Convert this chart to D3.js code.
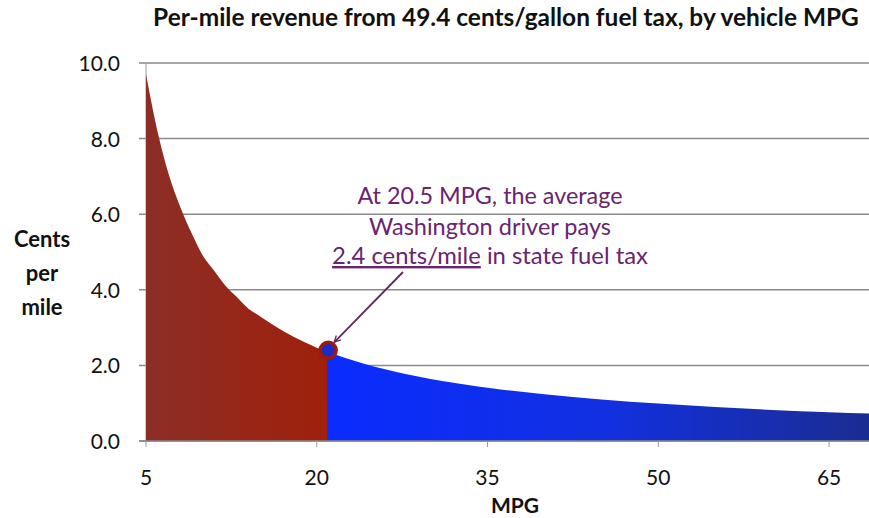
<!DOCTYPE html>
<html><head><meta charset="utf-8">
<script src="https://cdn.jsdelivr.net/npm/d3@7"></script>
<style>
html,body{margin:0;padding:0;background:#fff;}
svg{display:block;font-family:Lato,"Open Sans",sans-serif;}
</style></head>
<body>
<svg id="chart" width="869" height="518"></svg>
<script>
// ---- data ----
const mpg      = [5, 6, 7, 8, 9, 10, 11, 12, 13, 14, 15, 16, 18, 20, 20.9, 24, 28, 32, 36, 40, 45, 50, 55, 60, 65, 70];
const cents    = [9.7, 8.2, 7.05, 6.2, 5.5, 4.9, 4.5, 4.1, 3.8, 3.5, 3.3, 3.1, 2.75, 2.47, 2.36, 2.06, 1.76, 1.54, 1.37, 1.24, 1.1, 0.99, 0.9, 0.82, 0.76, 0.71];
const splitMPG = 20.9;
const markerPoint = [21, 2.4];
const yTicks = [0, 2, 4, 6, 8, 10];
const xTicks = [5, 20, 35, 50, 65];
const titleText = "Per-mile revenue from 49.4 cents/gallon fuel tax, by vehicle MPG";
const yLabelLines = ["Cents", "per", "mile"];
const xLabel = "MPG";
const noteLines = ["At 20.5 MPG, the average", "Washington driver pays"];
const noteUnderlined = "2.4 cents/mile";
const noteRest = " in state fuel tax";

const svg = d3.select("#chart");
const x = d3.scaleLinear().domain([5, 70]).range([146, 886]);
const y = d3.scaleLinear().domain([0, 10]).range([441, 63]);

const pts = mpg.map((m, i) => ({m, c: cents[i]}));
const redPts = pts.filter(p => p.m <= splitMPG);
const bluePts = pts.filter(p => p.m >= splitMPG);

const defs = svg.append("defs");
const gr = defs.append("linearGradient").attr("id", "gRed").attr("x1", 0).attr("x2", 1).attr("y1", 0).attr("y2", 0);
gr.append("stop").attr("offset", 0).attr("stop-color", "#8c2e26");
gr.append("stop").attr("offset", 1).attr("stop-color", "#a0200c");
const gb = defs.append("linearGradient").attr("id", "gBlue").attr("x1", 0).attr("x2", 1).attr("y1", 0).attr("y2", 0);
gb.append("stop").attr("offset", 0).attr("stop-color", "#0a2cff");
gb.append("stop").attr("offset", 0.5).attr("stop-color", "#1230e0");
gb.append("stop").attr("offset", 1).attr("stop-color", "#1b2c8c");
const ar = defs.append("marker").attr("id", "arrow").attr("viewBox", "0 0 10 10")
  .attr("refX", 9).attr("refY", 5).attr("markerWidth", 8).attr("markerHeight", 8)
  .attr("orient", "auto").attr("markerUnits", "userSpaceOnUse");
ar.append("path").attr("d", "M1,1 L9,5 L1,9").attr("fill", "none").attr("stroke", "#5e2a60").attr("stroke-width", 1.6);

// gridlines
svg.append("g").selectAll("line").data(yTicks).join("line")
  .attr("x1", 139).attr("x2", 869)
  .attr("y1", d => y(d)).attr("y2", d => y(d))
  .attr("stroke", "#8a8a8a").attr("stroke-width", 1.5);

// y axis line
svg.append("line").attr("x1", x(5)).attr("x2", x(5)).attr("y1", y(10)).attr("y2", y(0))
  .attr("stroke", "#9a9a9a").attr("stroke-width", 1);

const area = d3.area().x(d => x(d.m)).y0(y(0)).y1(d => y(d.c)).curve(d3.curveMonotoneX);
svg.append("path").datum(redPts).attr("d", area).attr("fill", "url(#gRed)");
svg.append("path").datum(bluePts).attr("d", area).attr("fill", "url(#gBlue)");

// x axis line and ticks
svg.append("line").attr("x1", 139).attr("x2", 869).attr("y1", y(0)).attr("y2", y(0))
  .attr("stroke", "#8a8a8a").attr("stroke-width", 1.5);
svg.append("g").selectAll("line").data(xTicks).join("line")
  .attr("x1", d => x(d)).attr("x2", d => x(d)).attr("y1", y(0)).attr("y2", y(0) + 6)
  .attr("stroke", "#9a9a9a").attr("stroke-width", 1);

// tick labels
svg.append("g").selectAll("text").data(yTicks).join("text")
  .attr("x", 120).attr("y", d => y(d) + 8).attr("text-anchor", "end")
  .attr("font-size", 21).attr("fill", "#111").text(d => d.toFixed(1));
svg.append("g").selectAll("text").data(xTicks).join("text")
  .attr("x", d => x(d)).attr("y", 485).attr("text-anchor", "middle")
  .attr("font-size", 21).attr("fill", "#111").text(d => d);

function fit(sel, w) {
  const n = sel.node();
  const cur = n.getComputedTextLength();
  const fs = parseFloat(sel.attr("font-size"));
  sel.attr("font-size", (fs * w / cur).toFixed(2));
}

// title
const t = svg.append("text").attr("x", 506).attr("y", 26).attr("text-anchor", "middle")
  .attr("font-weight", "bold").attr("font-size", 19).attr("fill", "#111").text(titleText);
fit(t, 706);

// axis labels
svg.append("g").selectAll("text").data(yLabelLines).join("text")
  .attr("x", 42).attr("y", (d, i) => 247 + i * 34).attr("text-anchor", "middle")
  .attr("font-weight", "bold").attr("font-size", 22).attr("fill", "#111").text(d => d);
svg.append("text").attr("x", 515).attr("y", 513).attr("text-anchor", "middle")
  .attr("font-weight", "bold").attr("font-size", 21).attr("fill", "#111").text(xLabel);

// annotation
const purple = "#6a2370";
const noteX = 490;
const n1 = svg.append("text").attr("x", noteX).attr("y", 204).attr("text-anchor", "middle")
  .attr("font-size", 20).attr("fill", purple).text(noteLines[0]);
fit(n1, 265);
const n2 = svg.append("text").attr("x", noteX).attr("y", 235).attr("text-anchor", "middle")
  .attr("font-size", 20).attr("fill", purple).text(noteLines[1]);
fit(n2, 242);
const n3 = svg.append("text").attr("x", noteX).attr("y", 264).attr("text-anchor", "middle")
  .attr("font-size", 20).attr("fill", purple);
n3.append("tspan").attr("text-decoration", "underline").text(noteUnderlined);
n3.append("tspan").text(noteRest);
fit(n3, 316);

// arrow
svg.append("line").attr("x1", 403).attr("y1", 272)
  .attr("x2", x(markerPoint[0]) + 6).attr("y2", y(markerPoint[1]) - 8)
  .attr("stroke", "#5e2a60").attr("stroke-width", 1.8).attr("marker-end", "url(#arrow)");

// marker
svg.append("circle").attr("cx", x(markerPoint[0])).attr("cy", y(markerPoint[1])).attr("r", 8)
  .attr("fill", "#1a2bc8").attr("stroke", "#a01a0a").attr("stroke-width", 3.5);
</script>
</body></html>
